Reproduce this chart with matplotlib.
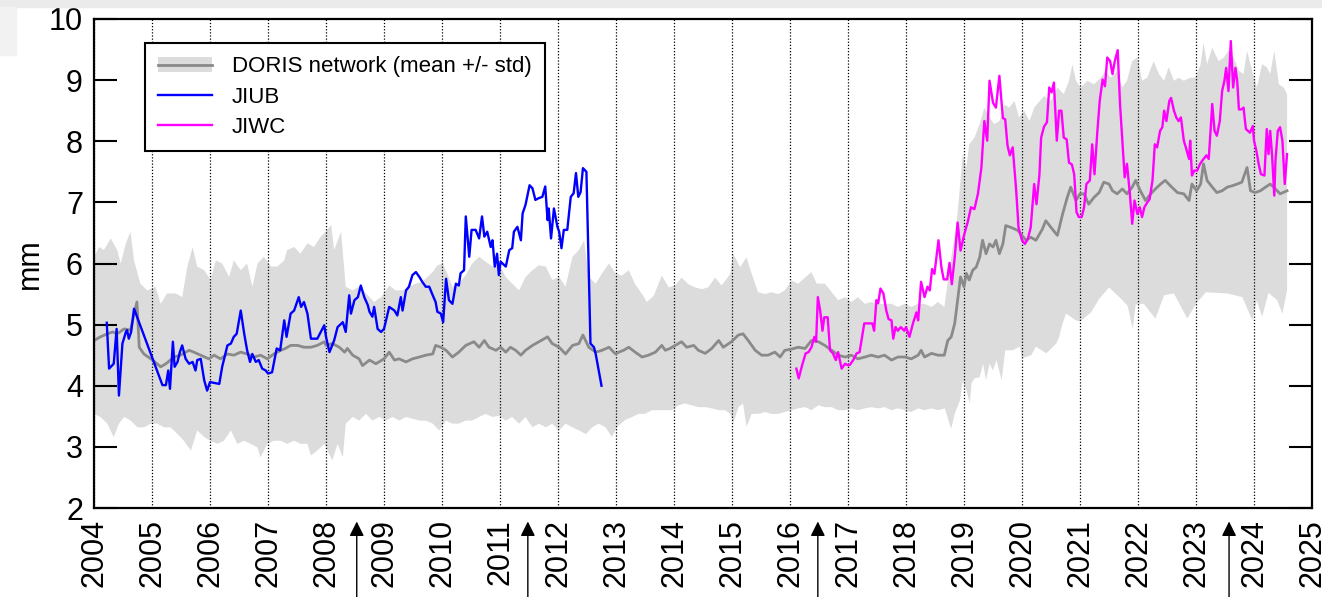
import matplotlib.pyplot as plt
from matplotlib.patches import Patch, Rectangle
from matplotlib.lines import Line2D
import numpy as np

plt.rcParams['font.family'] = ['Liberation Sans', 'DejaVu Sans']

# DORIS network mean
mean_t = [2004.00, 2004.11, 2004.23, 2004.32, 2004.40, 2004.52, 2004.63, 2004.74, 2004.78, 2004.86,
          2005.01, 2005.15, 2005.24, 2005.38, 2005.49, 2005.64, 2005.72, 2005.84, 2005.98, 2006.07,
          2006.18, 2006.30, 2006.41, 2006.53, 2006.64, 2006.76, 2006.87, 2006.99, 2007.10, 2007.22,
          2007.30, 2007.39, 2007.51, 2007.62, 2007.74, 2007.85, 2007.97, 2008.00, 2008.11, 2008.23,
          2008.32, 2008.37, 2008.46, 2008.57, 2008.63, 2008.75, 2008.86, 2009.00, 2009.09, 2009.18,
          2009.26, 2009.38, 2009.49, 2009.61, 2009.72, 2009.84, 2009.89, 2009.98, 2010.07, 2010.18,
          2010.29, 2010.41, 2010.55, 2010.64, 2010.73, 2010.81, 2010.93, 2011.01, 2011.10, 2011.18,
          2011.27, 2011.36, 2011.44, 2011.56, 2011.67, 2011.82, 2011.90, 2012.02, 2012.13, 2012.25,
          2012.36, 2012.43, 2012.53, 2012.65, 2012.76, 2012.88, 2012.99, 2013.05, 2013.13, 2013.22,
          2013.33, 2013.45, 2013.56, 2013.68, 2013.79, 2013.85, 2013.93, 2014.02, 2014.13, 2014.22,
          2014.34, 2014.42, 2014.54, 2014.65, 2014.77, 2014.85, 2014.99, 2015.11, 2015.19, 2015.28,
          2015.40, 2015.51, 2015.62, 2015.74, 2015.83, 2015.91, 2016.03, 2016.14, 2016.26, 2016.37,
          2016.49, 2016.60, 2016.72, 2016.83, 2016.95, 2017.06, 2017.17, 2017.29, 2017.40, 2017.52,
          2017.63, 2017.75, 2017.86, 2017.98, 2018.09, 2018.21, 2018.26, 2018.32, 2018.44, 2018.55,
          2018.66, 2018.72, 2018.78, 2018.84, 2018.89, 2018.94, 2019.00, 2019.04, 2019.09, 2019.15,
          2019.21, 2019.27, 2019.32, 2019.38, 2019.44, 2019.50, 2019.55, 2019.61, 2019.67, 2019.72,
          2019.81, 2019.93, 2019.98, 2020.07, 2020.15, 2020.24, 2020.35, 2020.41, 2020.50, 2020.61,
          2020.70, 2020.78, 2020.84, 2020.93, 2021.00, 2021.07, 2021.15, 2021.24, 2021.33, 2021.41,
          2021.50, 2021.56, 2021.64, 2021.73, 2021.81, 2021.90, 2021.96, 2022.04, 2022.13, 2022.22,
          2022.30, 2022.39, 2022.47, 2022.56, 2022.68, 2022.79, 2022.88, 2022.93, 2023.01, 2023.08,
          2023.13, 2023.19, 2023.28, 2023.36, 2023.45, 2023.54, 2023.62, 2023.71, 2023.79, 2023.88,
          2023.94, 2024.02, 2024.11, 2024.20, 2024.28, 2024.37, 2024.45, 2024.57]
mean_v = [4.74, 4.80, 4.85, 4.88, 4.85, 4.93, 4.91, 5.37, 4.63, 4.52,
          4.42, 4.31, 4.36, 4.47, 4.50, 4.58, 4.55, 4.50, 4.44, 4.50,
          4.44, 4.52, 4.50, 4.55, 4.52, 4.47, 4.50, 4.44, 4.52, 4.58,
          4.61, 4.66, 4.66, 4.63, 4.63, 4.66, 4.72, 4.66, 4.69, 4.63,
          4.55, 4.61, 4.50, 4.44, 4.33, 4.42, 4.36, 4.44, 4.55, 4.42,
          4.44, 4.39, 4.44, 4.47, 4.50, 4.52, 4.66, 4.63, 4.58, 4.47,
          4.55, 4.66, 4.72, 4.63, 4.74, 4.63, 4.58, 4.63, 4.55, 4.63,
          4.58, 4.50, 4.58, 4.66, 4.72, 4.80, 4.69, 4.63, 4.52, 4.66,
          4.69, 4.83, 4.63, 4.55, 4.58, 4.63, 4.52, 4.55, 4.58, 4.63,
          4.55, 4.47, 4.50, 4.55, 4.66, 4.58, 4.61, 4.66, 4.72, 4.63,
          4.66, 4.58, 4.53, 4.61, 4.74, 4.63, 4.72, 4.83, 4.85, 4.74,
          4.58, 4.50, 4.50, 4.55, 4.47, 4.58, 4.60, 4.63, 4.61, 4.74,
          4.72, 4.66, 4.58, 4.50, 4.47, 4.50, 4.44, 4.47, 4.50, 4.47,
          4.50, 4.42, 4.47, 4.47, 4.44, 4.50, 4.58, 4.47, 4.53, 4.50,
          4.50, 4.74, 4.80, 5.02, 5.40, 5.78, 5.62, 5.84, 5.73, 5.89,
          5.94, 6.10, 6.38, 6.16, 6.32, 6.27, 6.38, 6.16, 6.32, 6.62,
          6.59, 6.54, 6.48, 6.38, 6.43, 6.38, 6.56, 6.70, 6.59, 6.46,
          6.81, 7.08, 7.25, 7.03, 7.14, 7.14, 6.97, 7.08, 7.16, 7.33,
          7.30, 7.19, 7.14, 7.22, 7.14, 7.25, 7.36, 7.19, 7.03, 7.14,
          7.22, 7.30, 7.36, 7.27, 7.16, 7.14, 7.03, 7.30, 7.19, 7.30,
          7.63, 7.36, 7.25, 7.16, 7.19, 7.25, 7.27, 7.30, 7.33, 7.57,
          7.19, 7.16, 7.19, 7.25, 7.30, 7.22, 7.14, 7.19]

# DORIS network mean + std
upper_t = [2004.00, 2004.09, 2004.17, 2004.29, 2004.40, 2004.46, 2004.55, 2004.63, 2004.69, 2004.80,
           2004.92, 2005.06, 2005.15, 2005.26, 2005.41, 2005.52, 2005.61, 2005.70, 2005.78, 2005.90,
           2006.01, 2006.10, 2006.21, 2006.33, 2006.41, 2006.53, 2006.64, 2006.73, 2006.82, 2006.93,
           2007.05, 2007.16, 2007.28, 2007.33, 2007.45, 2007.56, 2007.68, 2007.79, 2007.91, 2008.02,
           2008.09, 2008.14, 2008.26, 2008.34, 2008.46, 2008.57, 2008.69, 2008.83, 2008.95, 2009.09,
           2009.20, 2009.32, 2009.43, 2009.55, 2009.66, 2009.84, 2009.92, 2010.01, 2010.09, 2010.18,
           2010.29, 2010.41, 2010.52, 2010.64, 2010.75, 2010.87, 2010.98, 2011.10, 2011.21, 2011.33,
           2011.44, 2011.56, 2011.67, 2011.79, 2011.90, 2012.02, 2012.13, 2012.25, 2012.36, 2012.45,
           2012.53, 2012.65, 2012.76, 2012.88, 2012.99, 2013.10, 2013.22, 2013.33, 2013.45, 2013.53,
           2013.65, 2013.79, 2013.91, 2014.02, 2014.13, 2014.25, 2014.36, 2014.48, 2014.59, 2014.71,
           2014.82, 2014.97, 2015.02, 2015.14, 2015.25, 2015.34, 2015.45, 2015.57, 2015.68, 2015.80,
           2015.91, 2016.03, 2016.14, 2016.26, 2016.37, 2016.46, 2016.60, 2016.72, 2016.83, 2016.95,
           2017.06, 2017.17, 2017.29, 2017.40, 2017.52, 2017.63, 2017.75, 2017.86, 2017.98, 2018.09,
           2018.21, 2018.32, 2018.44, 2018.55, 2018.66, 2018.78, 2018.87, 2018.92, 2018.98, 2019.04,
           2019.09, 2019.18, 2019.27, 2019.35, 2019.44, 2019.52, 2019.61, 2019.70, 2019.78, 2019.87,
           2019.95, 2020.04, 2020.13, 2020.21, 2020.38, 2020.50, 2020.61, 2020.72, 2020.81, 2020.87,
           2020.93, 2021.01, 2021.13, 2021.24, 2021.36, 2021.44, 2021.53, 2021.64, 2021.73, 2021.81,
           2021.90, 2021.99, 2022.07, 2022.16, 2022.27, 2022.36, 2022.45, 2022.53, 2022.62, 2022.70,
           2022.79, 2022.90, 2022.99, 2023.08, 2023.13, 2023.19, 2023.28, 2023.39, 2023.48, 2023.56,
           2023.65, 2023.74, 2023.82, 2023.88, 2023.97, 2024.05, 2024.14, 2024.22, 2024.28, 2024.35,
           2024.43, 2024.51, 2024.57]
upper_v = [6.11, 6.27, 6.22, 6.41, 6.22, 6.00, 6.33, 6.52, 6.05, 5.67,
           5.56, 5.62, 5.34, 5.51, 5.51, 5.45, 5.95, 6.27, 5.95, 5.89,
           5.73, 6.05, 6.00, 5.78, 6.05, 5.89, 6.00, 5.62, 6.00, 6.11,
           5.95, 5.95, 6.05, 6.22, 6.27, 6.16, 6.33, 6.27, 6.44, 6.55,
           6.63, 6.22, 6.52, 5.62, 5.56, 5.62, 5.51, 5.37, 5.45, 5.64,
           5.56, 5.56, 5.62, 5.67, 5.70, 5.86, 5.97, 6.00, 5.84, 5.62,
           5.67, 5.81, 6.00, 6.11, 6.03, 5.95, 6.00, 5.78, 5.67, 5.56,
           5.78, 5.89, 5.97, 5.95, 5.73, 5.78, 5.62, 6.11, 6.22, 6.38,
           5.78, 5.67, 5.84, 6.00, 5.84, 5.80, 5.89, 5.66, 5.50, 5.37,
           5.47, 5.80, 5.61, 5.64, 5.77, 5.66, 5.61, 5.58, 5.61, 5.77,
           5.64, 5.83, 6.16, 5.94, 6.10, 5.83, 5.53, 5.50, 5.53, 5.50,
           5.56, 5.72, 5.67, 5.77, 5.86, 5.67, 5.67, 5.53, 5.40, 5.45,
           5.37, 5.45, 5.34, 5.37, 5.34, 5.34, 5.34, 5.29, 5.34, 5.29,
           5.34, 5.34, 5.29, 5.37, 5.29, 6.10, 6.65, 7.14, 7.79, 7.57,
           7.95, 8.06, 8.28, 8.55, 8.39, 8.28, 8.33, 8.60, 8.55, 8.66,
           8.39, 8.50, 8.33, 8.55, 8.74, 8.66, 8.88, 8.77, 8.99, 9.26,
           8.99, 8.88, 8.99, 8.93, 9.04, 9.15, 9.04, 9.15, 8.88, 8.99,
           9.31, 9.37, 8.99, 9.04, 9.31, 9.10, 8.99, 9.21, 8.99, 9.04,
           8.99, 9.04, 9.04, 9.26, 9.61, 9.26, 9.53, 9.31, 9.37, 9.48,
           9.37, 9.15, 9.10, 9.48, 9.15, 8.88, 9.26, 9.21, 9.10, 9.48,
           8.93, 8.88, 8.77]

# DORIS network mean - std
lower_t = [2004.00, 2004.11, 2004.23, 2004.34, 2004.43, 2004.52, 2004.63, 2004.75, 2004.86, 2004.98,
           2005.09, 2005.21, 2005.32, 2005.44, 2005.55, 2005.67, 2005.78, 2005.90, 2006.01, 2006.13,
           2006.24, 2006.36, 2006.47, 2006.59, 2006.70, 2006.82, 2006.87, 2006.99, 2007.10, 2007.22,
           2007.33, 2007.45, 2007.56, 2007.68, 2007.74, 2007.85, 2007.97, 2008.05, 2008.11, 2008.20,
           2008.29, 2008.34, 2008.46, 2008.57, 2008.69, 2008.80, 2008.92, 2009.03, 2009.15, 2009.26,
           2009.38, 2009.49, 2009.61, 2009.72, 2009.84, 2009.95, 2010.07, 2010.18, 2010.29, 2010.41,
           2010.52, 2010.64, 2010.75, 2010.87, 2010.98, 2011.10, 2011.21, 2011.33, 2011.44, 2011.56,
           2011.67, 2011.79, 2011.90, 2012.02, 2012.13, 2012.25, 2012.36, 2012.48, 2012.59, 2012.70,
           2012.82, 2012.93, 2013.02, 2013.16, 2013.28, 2013.39, 2013.50, 2013.62, 2013.73, 2013.85,
           2013.96, 2014.08, 2014.19, 2014.31, 2014.42, 2014.54, 2014.65, 2014.77, 2014.88, 2014.97,
           2015.02, 2015.11, 2015.19, 2015.25, 2015.34, 2015.45, 2015.57, 2015.68, 2015.80, 2015.91,
           2016.03, 2016.14, 2016.26, 2016.37, 2016.49, 2016.60, 2016.72, 2016.83, 2016.95, 2017.06,
           2017.17, 2017.29, 2017.40, 2017.52, 2017.63, 2017.75, 2017.86, 2017.98, 2018.09, 2018.21,
           2018.32, 2018.44, 2018.55, 2018.67, 2018.75, 2018.78, 2018.84, 2018.93, 2018.98, 2019.04,
           2019.10, 2019.13, 2019.18, 2019.27, 2019.33, 2019.38, 2019.44, 2019.50, 2019.56, 2019.65,
           2019.71, 2019.84, 2019.96, 2020.00, 2020.16, 2020.24, 2020.42, 2020.59, 2020.64, 2020.70,
           2020.76, 2020.93, 2021.00, 2021.19, 2021.33, 2021.50, 2021.68, 2021.82, 2021.91, 2021.96,
           2022.10, 2022.30, 2022.45, 2022.62, 2022.85, 2023.00, 2023.17, 2023.54, 2023.80, 2023.97,
           2024.05, 2024.14, 2024.25, 2024.40, 2024.49, 2024.57]
lower_v = [3.54, 3.49, 3.38, 3.16, 3.38, 3.49, 3.43, 3.32, 3.32, 3.38,
           3.38, 3.32, 3.32, 3.21, 3.10, 2.94, 3.27, 3.16, 3.10, 3.05,
           3.10, 3.27, 3.05, 3.10, 3.05, 2.99, 2.83, 3.05, 3.10, 3.10,
           3.05, 3.10, 3.05, 3.05, 2.86, 2.94, 3.05, 2.89, 2.78, 3.05,
           2.83, 3.38, 3.49, 3.43, 3.54, 3.43, 3.49, 3.43, 3.49, 3.43,
           3.49, 3.46, 3.43, 3.43, 3.38, 3.27, 3.43, 3.38, 3.38, 3.43,
           3.43, 3.49, 3.54, 3.49, 3.51, 3.43, 3.49, 3.38, 3.49, 3.32,
           3.38, 3.32, 3.38, 3.27, 3.38, 3.32, 3.27, 3.21, 3.32, 3.38,
           3.32, 3.16, 3.33, 3.44, 3.49, 3.54, 3.54, 3.60, 3.60, 3.60,
           3.60, 3.68, 3.71, 3.68, 3.65, 3.65, 3.63, 3.60, 3.60, 3.54,
           3.38, 3.65, 3.71, 3.33, 3.54, 3.54, 3.57, 3.54, 3.54, 3.57,
           3.60, 3.63, 3.65, 3.60, 3.68, 3.65, 3.65, 3.60, 3.60, 3.63,
           3.60, 3.63, 3.65, 3.63, 3.65, 3.60, 3.63, 3.60, 3.57, 3.63,
           3.60, 3.63, 3.60, 3.63, 3.38, 3.30, 3.54, 3.76, 4.09, 3.93,
           3.71, 4.04, 4.12, 4.14, 4.36, 4.09, 4.36, 4.25, 4.42, 4.09,
           4.58, 4.58, 4.64, 4.45, 4.50, 4.64, 4.53, 4.69, 4.80, 5.02,
           5.18, 5.07, 5.05, 5.20, 5.42, 5.61, 5.45, 5.31, 4.93, 5.33,
           5.34, 5.10, 5.48, 5.51, 5.10, 5.34, 5.53, 5.51, 5.45, 5.07,
           5.40, 5.13, 5.52, 5.40, 5.18, 5.56]

# JIUB
jiub_t = [2004.22, 2004.26, 2004.34, 2004.39, 2004.43, 2004.49, 2004.55, 2004.57, 2004.60, 2004.64,
          2004.69, 2005.18, 2005.24, 2005.28, 2005.31, 2005.36, 2005.39, 2005.44, 2005.48, 2005.52,
          2005.58, 2005.64, 2005.70, 2005.75, 2005.78, 2005.84, 2005.90, 2005.95, 2006.00, 2006.16,
          2006.21, 2006.30, 2006.36, 2006.41, 2006.46, 2006.53, 2006.59, 2006.64, 2006.69, 2006.73,
          2006.79, 2006.84, 2006.90, 2006.96, 2007.00, 2007.07, 2007.15, 2007.21, 2007.28, 2007.32,
          2007.39, 2007.45, 2007.53, 2007.57, 2007.62, 2007.68, 2007.74, 2007.85, 2007.91, 2007.97,
          2008.00, 2008.06, 2008.14, 2008.20, 2008.29, 2008.34, 2008.40, 2008.43, 2008.49, 2008.55,
          2008.60, 2008.66, 2008.72, 2008.75, 2008.80, 2008.83, 2008.89, 2008.95, 2009.00, 2009.09,
          2009.18, 2009.23, 2009.29, 2009.32, 2009.38, 2009.43, 2009.49, 2009.55, 2009.61, 2009.66,
          2009.72, 2009.78, 2009.84, 2009.89, 2009.92, 2009.98, 2010.02, 2010.07, 2010.12, 2010.18,
          2010.24, 2010.29, 2010.32, 2010.38, 2010.41, 2010.47, 2010.51, 2010.58, 2010.64, 2010.69,
          2010.73, 2010.78, 2010.84, 2010.87, 2010.91, 2010.95, 2010.98, 2011.01, 2011.10, 2011.16,
          2011.21, 2011.24, 2011.30, 2011.36, 2011.39, 2011.44, 2011.51, 2011.56, 2011.61, 2011.67,
          2011.73, 2011.78, 2011.82, 2011.84, 2011.88, 2011.93, 2011.99, 2012.02, 2012.06, 2012.10,
          2012.16, 2012.22, 2012.27, 2012.31, 2012.35, 2012.39, 2012.43, 2012.49, 2012.56, 2012.62,
          2012.65, 2012.75]
jiub_v = [5.03, 4.28, 4.36, 4.93, 3.84, 4.69, 4.88, 4.91, 4.77, 4.88,
          5.26, 4.01, 4.01, 4.25, 3.95, 4.72, 4.31, 4.39, 4.55, 4.66,
          4.44, 4.36, 4.39, 4.25, 4.42, 4.44, 4.09, 3.92, 4.06, 4.03,
          4.31, 4.66, 4.69, 4.80, 4.85, 5.23, 4.85, 4.58, 4.39, 4.52,
          4.39, 4.42, 4.28, 4.25, 4.20, 4.22, 4.61, 4.58, 5.07, 4.80,
          5.18, 5.23, 5.45, 5.29, 5.37, 5.18, 4.77, 4.77, 4.88, 4.99,
          4.80, 4.55, 4.74, 4.96, 5.04, 4.88, 5.48, 5.18, 5.40, 5.45,
          5.64, 5.45, 5.32, 5.21, 5.13, 5.29, 4.93, 4.88, 4.93, 5.29,
          5.23, 5.15, 5.45, 5.23, 5.56, 5.62, 5.81, 5.86, 5.78, 5.70,
          5.62, 5.62, 5.48, 5.37, 5.21, 5.18, 5.04, 5.75, 5.40, 5.34,
          5.67, 5.64, 5.84, 5.89, 6.77, 6.11, 6.55, 6.55, 6.41, 6.77,
          6.44, 6.52, 6.27, 6.38, 5.95, 6.16, 5.81, 6.03, 5.95, 6.22,
          6.25, 6.52, 6.60, 6.38, 6.82, 6.96, 7.28, 7.23, 7.04, 7.07,
          7.09, 7.26, 6.71, 6.90, 6.41, 6.90, 6.60, 6.52, 6.25, 6.55,
          6.55, 7.09, 7.15, 7.48, 7.09, 7.17, 7.56, 7.50, 4.69, 4.63,
          4.52, 4.00]

# JIWC
jiwc_t = [2016.11, 2016.15, 2016.21, 2016.27, 2016.32, 2016.37, 2016.42, 2016.45, 2016.48, 2016.52,
          2016.56, 2016.59, 2016.65, 2016.69, 2016.74, 2016.79, 2016.83, 2016.89, 2016.95, 2016.99,
          2017.03, 2017.09, 2017.15, 2017.20, 2017.28, 2017.35, 2017.42, 2017.45, 2017.49, 2017.52,
          2017.56, 2017.61, 2017.66, 2017.70, 2017.75, 2017.78, 2017.82, 2017.86, 2017.91, 2017.97,
          2018.00, 2018.06, 2018.12, 2018.18, 2018.21, 2018.26, 2018.32, 2018.37, 2018.41, 2018.45,
          2018.49, 2018.56, 2018.61, 2018.65, 2018.71, 2018.75, 2018.79, 2018.84, 2018.89, 2018.94,
          2019.00, 2019.07, 2019.12, 2019.18, 2019.24, 2019.30, 2019.35, 2019.40, 2019.44, 2019.50,
          2019.55, 2019.61, 2019.67, 2019.71, 2019.75, 2019.79, 2019.84, 2019.90, 2019.94, 2020.00,
          2020.05, 2020.10, 2020.15, 2020.21, 2020.25, 2020.30, 2020.33, 2020.38, 2020.43, 2020.47,
          2020.51, 2020.55, 2020.60, 2020.64, 2020.68, 2020.72, 2020.77, 2020.81, 2020.86, 2020.90,
          2020.94, 2020.98, 2021.03, 2021.07, 2021.11, 2021.17, 2021.21, 2021.25, 2021.30, 2021.34,
          2021.39, 2021.43, 2021.47, 2021.52, 2021.56, 2021.60, 2021.65, 2021.69, 2021.73, 2021.77,
          2021.81, 2021.86, 2021.90, 2021.94, 2021.99, 2022.03, 2022.07, 2022.11, 2022.16, 2022.20,
          2022.25, 2022.29, 2022.33, 2022.38, 2022.42, 2022.45, 2022.49, 2022.54, 2022.57, 2022.62,
          2022.66, 2022.70, 2022.74, 2022.79, 2022.83, 2022.88, 2022.90, 2022.93, 2022.97, 2023.02,
          2023.07, 2023.13, 2023.18, 2023.22, 2023.28, 2023.32, 2023.36, 2023.41, 2023.45, 2023.49,
          2023.52, 2023.56, 2023.60, 2023.64, 2023.68, 2023.71, 2023.74, 2023.78, 2023.82, 2023.86,
          2023.93, 2023.98, 2024.00, 2024.04, 2024.08, 2024.12, 2024.18, 2024.22, 2024.25, 2024.28,
          2024.31, 2024.35, 2024.37, 2024.41, 2024.45, 2024.49, 2024.53, 2024.57]
jiwc_v = [4.28, 4.12, 4.34, 4.53, 4.55, 4.63, 4.80, 4.72, 5.45, 5.23,
          4.90, 5.12, 5.12, 4.58, 4.53, 4.42, 4.55, 4.28, 4.36, 4.34,
          4.34, 4.42, 4.53, 4.55, 5.02, 5.02, 5.02, 4.90, 5.40, 5.35,
          5.59, 5.51, 5.23, 5.09, 5.07, 4.77, 4.96, 4.90, 4.96, 4.90,
          4.96, 4.80, 5.02, 5.20, 5.07, 5.70, 5.45, 5.62, 5.56, 5.91,
          5.83, 6.38, 5.94, 5.74, 5.74, 6.01, 5.66, 6.10, 6.67, 6.21,
          6.46, 6.70, 6.92, 6.89, 7.14, 7.57, 8.33, 8.01, 8.99, 8.63,
          8.55, 9.07, 8.38, 8.36, 7.93, 7.77, 7.90, 7.19, 6.59, 6.38,
          6.32, 6.40, 6.59, 7.30, 6.97, 7.45, 8.06, 8.24, 8.31, 8.88,
          8.80, 8.96, 8.01, 8.50, 8.50, 8.06, 8.03, 7.65, 7.62, 7.46,
          6.84, 6.76, 6.76, 6.92, 7.30, 7.36, 7.95, 7.46, 8.17, 8.66,
          9.01, 8.90, 9.37, 9.31, 9.10, 9.31, 9.49, 8.61, 8.01, 7.41,
          7.63, 7.14, 6.65, 7.03, 6.81, 6.92, 6.76, 6.92, 7.00, 7.05,
          7.36, 7.95, 7.90, 8.17, 8.23, 8.50, 8.33, 8.66, 8.71, 8.50,
          8.39, 8.33, 8.39, 8.01, 7.88, 7.71, 8.01, 7.44, 7.52, 7.52,
          7.63, 7.71, 7.77, 7.71, 8.61, 8.17, 8.09, 8.33, 8.82, 8.99,
          9.20, 8.82, 9.64, 8.88, 9.20, 8.99, 8.52, 8.52, 8.55, 8.20,
          8.14, 8.25, 8.01, 7.85, 7.63, 7.46, 7.44, 8.20, 7.79, 8.17,
          7.79, 7.11, 7.68, 8.17, 8.23, 8.01, 7.30, 7.79]

years = list(range(2004, 2026))
arrow_years = [2008.53, 2011.48, 2016.48, 2023.57]

fig = plt.figure(figsize=(13.22, 5.97), dpi=100)
fig.patches.append(Rectangle((0, 1 - 7 / 597), 1, 7 / 597, transform=fig.transFigure,
                             color='#ebebeb', zorder=0))
fig.patches.append(Rectangle((0, 1 - 55 / 597), 16 / 1322, 48 / 597, transform=fig.transFigure,
                             color='#f2f2f2', zorder=0))
ax = fig.add_axes([94 / 1322, 1 - 508 / 597, 1218 / 1322, 489 / 597])

ax.fill(np.concatenate([upper_t, lower_t[::-1]]), np.concatenate([upper_v, lower_v[::-1]]),
        color='#dcdcdc', lw=0, zorder=1)
ax.plot(mean_t, mean_v, color='#8a8a8a', lw=2.0, zorder=2)
ax.plot(jiub_t, jiub_v, color='#0000ff', lw=1.7, zorder=3)
ax.plot(jiwc_t, jiwc_v, color='#ff00ff', lw=1.7, zorder=3)

ax.set_xlim(2004, 2025)
ax.set_ylim(2, 10)
ax.set_xticks(years)
ax.set_xticklabels([str(y) for y in years], rotation=90, fontsize=22)
ax.set_yticks(range(2, 11))
ax.tick_params(axis='y', direction='in', length=16.5, width=1.5, labelsize=22, pad=8,
               right=True)
ax.tick_params(axis='x', length=0, pad=8)
ax.set_axisbelow('line')
ax.grid(axis='x', color='black', linestyle=(0, (1, 1.5)), lw=0.9)
for s in ax.spines.values():
    s.set_linewidth(1.6)
ax.set_ylabel('mm', fontsize=22, labelpad=3)

for yr in arrow_years:
    ax.annotate('', xy=(yr, -0.022), xytext=(yr, -0.19), xycoords=ax.get_xaxis_transform(),
                arrowprops=dict(arrowstyle='-|>', color='black', lw=1, mutation_scale=22),
                annotation_clip=False)

handles = [(Patch(facecolor='#dcdcdc', edgecolor='none'), Line2D([], [], color='#8a8a8a', lw=2.0)),
           Line2D([], [], color='#0000ff', lw=1.7),
           Line2D([], [], color='#ff00ff', lw=1.7)]
leg = ax.legend(handles, ['DORIS network (mean +/- std)', 'JIUB', 'JIWC'],
                loc='upper left', bbox_to_anchor=(51 / 1218, 465 / 489), borderaxespad=0,
                fontsize=16, fancybox=False, framealpha=1, edgecolor='black',
                handlelength=2.4, handletextpad=0.9, labelspacing=0.42, borderpad=0.6)
leg.get_frame().set_linewidth(1.5)

plt.savefig('out.png', dpi=100)
